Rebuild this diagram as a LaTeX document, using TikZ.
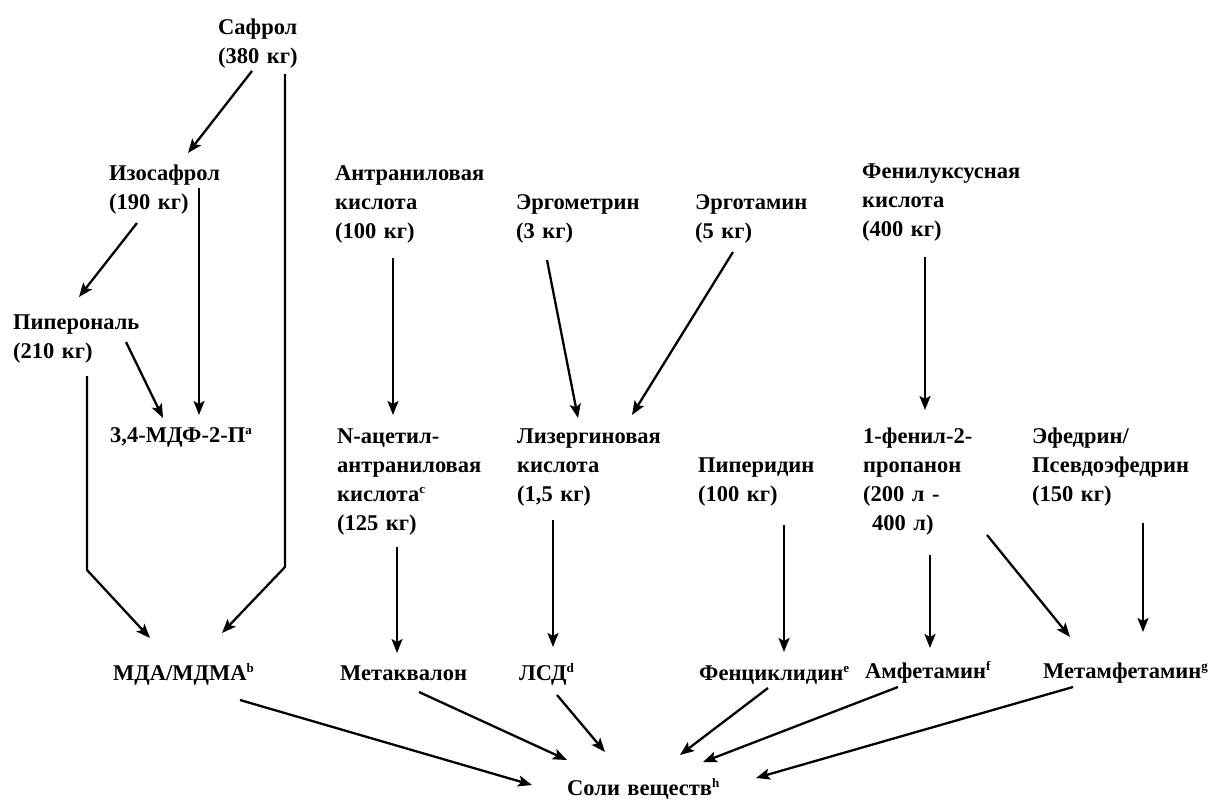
\documentclass[tikz,border=0pt]{standalone}
\usepackage{fontspec}
\setmainfont{Liberation Serif}
\usetikzlibrary{arrows.meta}
\newcommand{\fnm}[1]{\raisebox{0.75ex}{\fontsize{13}{13}\selectfont #1}}
\tikzset{
  lbl/.style={anchor=base west,inner sep=0pt,text width=190pt,align=left,font=\fontsize{22.5}{29}\selectfont\bfseries},
  arr/.style={-{Stealth[length=14pt,width=11pt,inset=3pt]},line width=2.3pt}
}
\begin{document}
\begin{tikzpicture}[x=1pt,y=-1pt]
  \useasboundingbox (0,0) rectangle (1208,801);
  % sources
  \node[lbl] (saf) at (218,34) {Сафрол\\(380 кг)};
  \node[lbl] (izo) at (109,180) {Изосафрол\\(190 кг)};
  \node[lbl] (pip) at (13,329) {Пиперональ\\(210 кг)};
  \node[lbl] (ant) at (335,180) {Антраниловая\\кислота\\(100 кг)};
  \node[lbl] (ergm) at (516,209) {Эргометрин\\(3 кг)};
  \node[lbl] (ergt) at (695,209) {Эрготамин\\(5 кг)};
  \node[lbl] (fen) at (862,178) {Фенилуксусная\\кислота\\(400 кг)};
  % intermediates
  \node[lbl] (mdp) at (110,442) {3,4-МДФ-2-П\fnm{a}};
  \node[lbl] (nac) at (337,443) {N-ацетил-\\антраниловая\\кислота\fnm{c}\\(125 кг)};
  \node[lbl] (liz) at (517,443) {Лизергиновая\\кислота\\(1,5 кг)};
  \node[lbl] (ppd) at (698,472) {Пиперидин\\(100 кг)};
  \node[lbl] (p2p) at (863,443) {1-фенил-2-\\пропанон\\(200 л -\\\hspace*{0.4em}400 л)};
  \node[lbl] (efd) at (1032,443) {Эфедрин/\\Псевдоэфедрин\\(150 кг)};
  % products
  \node[lbl] (mda) at (113,680) {МДА/МДМА\fnm{b}};
  \node[lbl] (mtq) at (340,680) {Метаквалон};
  \node[lbl] (lsd) at (519,680) {ЛСД\fnm{d}};
  \node[lbl] (pcp) at (699,680) {Фенциклидин\fnm{e}};
  \node[lbl] (amf) at (865,678) {Амфетамин\fnm{f}};
  \node[lbl] (mamf) at (1043,678) {Метамфетамин\fnm{g}};
  \node[lbl] (sol) at (567,795) {Соли веществ\fnm{h}};
  % arrows
  \draw[arr] ([shift={(34,37)}]saf.base west) -- ([shift={(79,-27)}]izo.base west);
  \draw[arr] ([shift={(67,40)}]saf.base west) -- ++(0,493) -- ([shift={(109,-47)}]mda.base west);
  \draw[arr] ([shift={(90,8)}]izo.base west) -- ([shift={(89,-27)}]mdp.base west);
  \draw[arr] ([shift={(28,43)}]izo.base west) -- ([shift={(66,-32)}]pip.base west);
  \draw[arr] ([shift={(113,13)}]pip.base west) -- ([shift={(53,-24)}]mdp.base west);
  \draw[arr] ([shift={(74,47)}]pip.base west) -- ++(0,194) -- ([shift={(37,-42)}]mda.base west);
  \draw[arr] ([shift={(58,78)}]ant.base west) -- ([shift={(56,-28)}]nac.base west);
  \draw[arr] ([shift={(31,51)}]ergm.base west) -- ([shift={(61,-25)}]liz.base west);
  \draw[arr] ([shift={(38,43)}]ergt.base west) -- ([shift={(115,-28)}]liz.base west);
  \draw[arr] ([shift={(63,79)}]fen.base west) -- ([shift={(62,-33)}]p2p.base west);
  \draw[arr] ([shift={(60,104)}]nac.base west) -- ([shift={(57,-27)}]mtq.base west);
  \draw[arr] ([shift={(36,77)}]liz.base west) -- ([shift={(34,-33)}]lsd.base west);
  \draw[arr] ([shift={(86,53)}]ppd.base west) -- ([shift={(85,-28)}]pcp.base west);
  \draw[arr] ([shift={(67,112)}]p2p.base west) -- ([shift={(65,-30)}]amf.base west);
  \draw[arr] ([shift={(124,92)}]p2p.base west) -- ([shift={(27,-41)}]mamf.base west);
  \draw[arr] ([shift={(111,80)}]efd.base west) -- ([shift={(100,-46)}]mamf.base west);
  \draw[arr] ([shift={(127,20)}]mda.base west) -- ([shift={(-35,-10)}]sol.base west);
  \draw[arr] ([shift={(79,12)}]mtq.base west) -- ([shift={(0,-35)}]sol.base west);
  \draw[arr] ([shift={(38,15)}]lsd.base west) -- ([shift={(38,-43)}]sol.base west);
  \draw[arr] ([shift={(69,8)}]pcp.base west) -- ([shift={(113,-40)}]sol.base west);
  \draw[arr] ([shift={(33,9)}]amf.base west) -- ([shift={(136,-33)}]sol.base west);
  \draw[arr] ([shift={(30,9)}]mamf.base west) -- ([shift={(189,-17)}]sol.base west);
\end{tikzpicture}
\end{document}
